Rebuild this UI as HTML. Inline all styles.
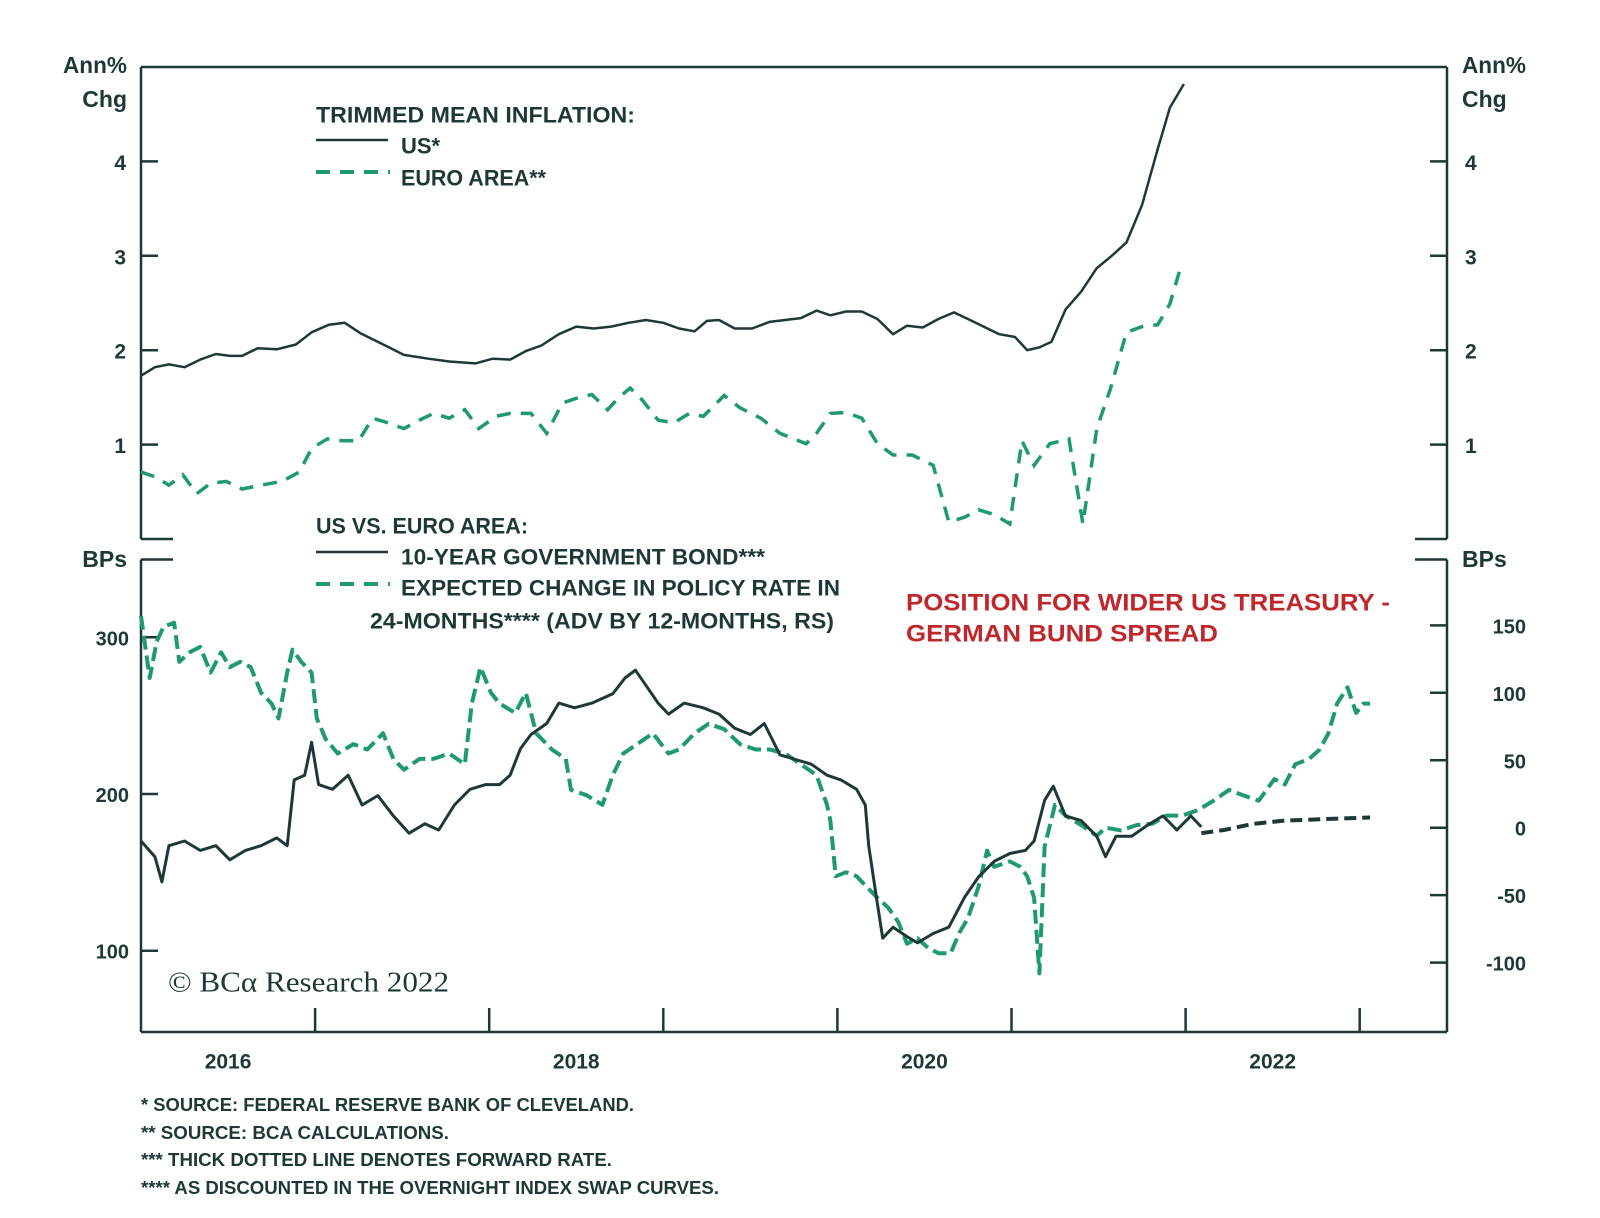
<!DOCTYPE html>
<html><head><meta charset="utf-8"><style>
html,body{margin:0;padding:0;background:#fff;}
svg{display:block;font-family:"Liberation Sans",sans-serif;}
</style></head><body>
<svg id="chart" width="1600" height="1218" viewBox="0 0 1600 1218" xmlns="http://www.w3.org/2000/svg">
<g id="frame" stroke="#1e3838" stroke-width="2.5" fill="none">
  <line x1="141" y1="67" x2="1447" y2="67"/>
  <line x1="141" y1="67" x2="141" y2="539"/>
  <line x1="1447" y1="67" x2="1447" y2="539"/>
  <line x1="141" y1="539" x2="173" y2="539"/>
  <line x1="1415" y1="539" x2="1447" y2="539"/>
  <line x1="141" y1="559.5" x2="173" y2="559.5"/>
  <line x1="1415" y1="559.5" x2="1447" y2="559.5"/>
  <line x1="141" y1="559.5" x2="141" y2="1032"/>
  <line x1="1447" y1="559.5" x2="1447" y2="1032"/>
  <line x1="141" y1="1032" x2="1447" y2="1032"/>
</g>
<g id="ticks"></g>
<g id="series"></g>
<g fill="#1e3838" font-weight="bold">
  <text x="127" y="65" text-anchor="end" dominant-baseline="central" font-size="23" textLength="64" lengthAdjust="spacingAndGlyphs">Ann%</text>
  <text x="127" y="99" text-anchor="end" dominant-baseline="central" font-size="23">Chg</text>
  <text x="1462" y="65" dominant-baseline="central" font-size="23" textLength="64" lengthAdjust="spacingAndGlyphs">Ann%</text>
  <text x="1462" y="99" dominant-baseline="central" font-size="23">Chg</text>
  <text x="127" y="559" text-anchor="end" dominant-baseline="central" font-size="23">BPs</text>
  <text x="1462" y="559" dominant-baseline="central" font-size="23">BPs</text>
</g>
<g fill="#1e3838" font-weight="bold" font-size="22">
  <text x="316" y="115" dominant-baseline="central" textLength="319" lengthAdjust="spacingAndGlyphs">TRIMMED MEAN INFLATION:</text>
  <line x1="316" y1="140" x2="388" y2="140" stroke="#1e3838" stroke-width="2.5"/>
  <text x="401" y="146" dominant-baseline="central">US*</text>
  <line x1="316" y1="172" x2="390" y2="172" stroke="#1f9a70" stroke-width="4" stroke-dasharray="14 10"/>
  <text x="401" y="178" dominant-baseline="central" textLength="145" lengthAdjust="spacingAndGlyphs">EURO AREA**</text>
  <text x="316" y="526" dominant-baseline="central" textLength="212" lengthAdjust="spacingAndGlyphs">US VS. EURO AREA:</text>
  <line x1="316" y1="552" x2="388" y2="552" stroke="#1e3838" stroke-width="2.5"/>
  <text x="401" y="557" dominant-baseline="central" textLength="364" lengthAdjust="spacingAndGlyphs">10-YEAR GOVERNMENT BOND***</text>
  <line x1="316" y1="584" x2="390" y2="584" stroke="#1f9a70" stroke-width="4" stroke-dasharray="14 10"/>
  <text x="401" y="588" dominant-baseline="central" textLength="439" lengthAdjust="spacingAndGlyphs">EXPECTED CHANGE IN POLICY RATE IN</text>
  <text x="370" y="621" dominant-baseline="central" textLength="464" lengthAdjust="spacingAndGlyphs">24-MONTHS**** (ADV BY 12-MONTHS, RS)</text>
</g>
<g fill="#c0272d" font-weight="bold" font-size="24">
  <text x="906" y="603" dominant-baseline="central" textLength="484" lengthAdjust="spacingAndGlyphs">POSITION FOR WIDER US TREASURY -</text>
  <text x="906" y="634" dominant-baseline="central" textLength="312" lengthAdjust="spacingAndGlyphs">GERMAN BUND SPREAD</text>
</g>
<text x="168" y="983" dominant-baseline="central" font-family="'Liberation Serif',serif" font-size="28" fill="#1e3838" textLength="281" lengthAdjust="spacingAndGlyphs">© BCα Research 2022</text>
<g fill="#1e3838" font-weight="bold" font-size="18">
  <text x="141" y="1105" dominant-baseline="central" textLength="493" lengthAdjust="spacingAndGlyphs">*   SOURCE: FEDERAL RESERVE BANK OF CLEVELAND.</text>
  <text x="141" y="1133" dominant-baseline="central" textLength="308" lengthAdjust="spacingAndGlyphs">**  SOURCE: BCA CALCULATIONS.</text>
  <text x="141" y="1160" dominant-baseline="central" textLength="471" lengthAdjust="spacingAndGlyphs">***  THICK DOTTED LINE DENOTES FORWARD RATE.</text>
  <text x="141" y="1188" dominant-baseline="central" textLength="578" lengthAdjust="spacingAndGlyphs">**** AS DISCOUNTED IN THE OVERNIGHT INDEX SWAP CURVES.</text>
</g>
</svg>
<script>
// ---- data ----
const topTicks = [1, 2, 3, 4];
const leftTicks = [100, 200, 300];
const rightTicks = [-100, -50, 0, 50, 100, 150];
const yearTicks = [2017, 2018, 2019, 2020, 2021, 2022, 2023];
const yearLabels = ["2016", "2018", "2020", "2022"];
const usT = [0,.08,.16,.25,.34,.43,.51,.58,.67,.78,.89,.98,1.08,1.17,1.26,1.37,1.51,1.65,1.77,1.92,2.02,2.12,2.21,2.30,2.40,2.50,2.60,2.70,2.80,2.90,3.00,3.09,3.18,3.25,3.32,3.41,3.51,3.61,3.70,3.79,3.88,3.96,4.05,4.14,4.23,4.32,4.40,4.49,4.58,4.67,4.75,4.84,4.93,5.02,5.09,5.16,5.23,5.31,5.40,5.49,5.57,5.66,5.75,5.84,5.91,5.99];
const usInfl = [1.73,1.82,1.85,1.82,1.90,1.96,1.94,1.94,2.02,2.01,2.06,2.19,2.27,2.29,2.18,2.08,1.95,1.91,1.88,1.86,1.91,1.90,1.99,2.05,2.17,2.25,2.23,2.25,2.29,2.32,2.29,2.23,2.20,2.31,2.32,2.23,2.23,2.30,2.32,2.34,2.42,2.37,2.41,2.41,2.33,2.17,2.26,2.24,2.33,2.40,2.33,2.25,2.17,2.14,2.00,2.03,2.09,2.43,2.62,2.87,2.99,3.14,3.54,4.13,4.57,4.82];
const euT = [0,.08,.16,.24,.32,.40,.49,.58,.69,.81,.91,.98,1.07,1.16,1.25,1.33,1.42,1.51,1.60,1.68,1.77,1.86,1.94,2.04,2.12,2.24,2.33,2.42,2.50,2.59,2.68,2.74,2.81,2.88,2.97,3.06,3.15,3.23,3.35,3.44,3.56,3.67,3.82,3.88,3.96,4.05,4.14,4.23,4.32,4.43,4.55,4.64,4.73,4.81,4.90,4.99,5.06,5.13,5.22,5.33,5.41,5.49,5.57,5.66,5.75,5.84,5.91,5.97];
const euInfl = [.71,.66,.57,.68,.48,.59,.61,.53,.57,.61,.71,.96,1.06,1.04,1.04,1.28,1.23,1.17,1.26,1.33,1.28,1.37,1.17,1.30,1.33,1.33,1.12,1.44,1.49,1.53,1.37,1.49,1.60,1.47,1.26,1.23,1.33,1.30,1.52,1.39,1.28,1.12,1.01,1.12,1.33,1.34,1.28,1.01,.89,.89,.78,.18,.23,.31,.26,.16,1.04,.78,1.01,1.06,.16,1.17,1.60,2.19,2.25,2.27,2.49,2.87];
const bondT = [0,.08,.12,.16,.25,.34,.43,.51,.60,.69,.78,.84,.88,.94,.98,1.02,1.10,1.19,1.27,1.36,1.45,1.54,1.63,1.71,1.80,1.89,1.98,2.06,2.12,2.18,2.24,2.33,2.40,2.49,2.59,2.71,2.78,2.84,2.89,2.97,3.03,3.12,3.23,3.32,3.41,3.50,3.58,3.67,3.76,3.85,3.94,4.02,4.11,4.16,4.18,4.22,4.26,4.32,4.40,4.46,4.55,4.64,4.73,4.81,4.90,4.99,5.08,5.13,5.19,5.24,5.31,5.40,5.49,5.54,5.60,5.69,5.78,5.87,5.95,6.03,6.09];
const bondSpread = [170,160,144,167,170,164,167,158,164,167,172,167,209,212,233,206,203,212,193,199,186,175,181,177,193,203,206,206,212,229,238,245,258,255,258,264,274,279,271,258,251,258,255,251,242,238,245,225,222,219,212,209,203,193,167,137,108,115,109,105,111,115,134,147,157,162,164,170,196,205,186,183,173,160,173,173,180,186,177,186,179];
const fwdT = [6.09,6.22,6.39,6.57,6.80,7.06];
const fwdSpread = [175,177,181,183,184,185];
const polT = [0,.05,.09,.13,.19,.22,.28,.34,.40,.46,.51,.57,.63,.69,.75,.79,.84,.87,.92,.98,1.01,1.06,1.13,1.22,1.30,1.39,1.45,1.51,1.60,1.68,1.77,1.86,1.90,1.95,2.01,2.06,2.15,2.21,2.27,2.36,2.44,2.47,2.56,2.65,2.71,2.77,2.85,2.94,3.03,3.09,3.18,3.26,3.35,3.44,3.53,3.61,3.70,3.79,3.88,3.94,3.96,3.99,4.05,4.11,4.17,4.23,4.29,4.35,4.40,4.46,4.52,4.58,4.65,4.70,4.75,4.81,4.86,4.90,4.99,5.05,5.09,5.13,5.16,5.19,5.25,5.31,5.40,5.49,5.54,5.63,5.72,5.81,5.89,5.98,6.07,6.16,6.25,6.33,6.42,6.51,6.57,6.63,6.71,6.77,6.82,6.87,6.93,6.98,7.02,7.06];
const polChange = [157,111,138,149,152,123,130,134,115,130,119,123,119,100,92,81,115,132,123,115,81,66,55,62,58,70,51,43,51,51,55,47,92,119,100,92,85,100,70,58,51,28,24,17,39,55,62,70,55,58,70,77,73,62,58,58,55,47,39,17,5,-36,-33,-36,-44,-52,-59,-70,-86,-82,-89,-93,-93,-78,-67,-44,-17,-29,-25,-29,-36,-52,-108,-14,17,9,2,-6,0,-2,2,3,9,9,13,20,28,24,20,36,32,47,51,58,70,92,104,85,92,92];

// ---- axis functions ----
const NS = "http://www.w3.org/2000/svg";
function xs(t) { return 141 + t * 174.1; }            // t = years since 2016
function xYear(y) { return xs(y - 2016); }
function yTop(v) { return 539 - v * 94.4; }
function yLeft(v) { return 794 - (v - 200) * 1.567; }
function yRight(v) { return 827.7 - v * 1.349; }
const ticksG = document.getElementById('ticks');
const seriesG = document.getElementById('series');
function mk(tag, attrs, parent) {
  const e = document.createElementNS(NS, tag);
  for (const k in attrs) e.setAttribute(k, attrs[k]);
  parent.appendChild(e);
  return e;
}
const ink = "#1e3838";
topTicks.forEach(v => {
  const l1 = mk('line', {x1: 141, x2: 158, y1: yTop(v), y2: yTop(v), stroke: ink, 'stroke-width': 2.5}, ticksG);
  
  
  const l2 = mk('line', {x1: 1430, x2: 1447, y1: yTop(v), y2: yTop(v), stroke: ink, 'stroke-width': 2.5}, ticksG);
  
  
  const t1 = mk('text', {x: 126, y: yTop(v) + 2, 'text-anchor': 'end', 'dominant-baseline': 'central', 'font-size': 21, 'font-weight': 'bold', fill: ink}, ticksG);
  t1.textContent = v;
  
  
  const t2 = mk('text', {x: 1465, y: yTop(v) + 2, 'dominant-baseline': 'central', 'font-size': 21, 'font-weight': 'bold', fill: ink}, ticksG);
  t2.textContent = v;
  
  
});
leftTicks.forEach(v => {
  const l = mk('line', {x1: 141, x2: 158, y1: yLeft(v), y2: yLeft(v), stroke: ink, 'stroke-width': 2.5}, ticksG);
  
  
  const t = mk('text', {x: 129, y: yLeft(v) + 2, 'text-anchor': 'end', 'dominant-baseline': 'central', 'font-size': 20, 'font-weight': 'bold', fill: ink}, ticksG);
  t.textContent = v;
  
  
});
rightTicks.forEach(v => {
  const l = mk('line', {x1: 1430, x2: 1447, y1: yRight(v), y2: yRight(v), stroke: ink, 'stroke-width': 2.5}, ticksG);
  
  
  const t = mk('text', {x: 1526, y: yRight(v) + 2, 'text-anchor': 'end', 'dominant-baseline': 'central', 'font-size': 20, 'font-weight': 'bold', fill: ink}, ticksG);
  t.textContent = v;
  
  
});
yearTicks.forEach(y => {
  const l = mk('line', {x1: xYear(y), x2: xYear(y), y1: 1008, y2: 1032, stroke: ink, 'stroke-width': 2.5}, ticksG);
  
  
});
yearLabels.forEach(s => {
  const y = +s;
  const t = mk('text', {x: xYear(y + 0.5), y: 1062, 'text-anchor': 'middle', 'dominant-baseline': 'central', 'font-size': 21, 'font-weight': 'bold', fill: ink}, ticksG);
  t.textContent = s;
  
  
});
function path(ts, vs, yf) {
  return ts.map((t, i) => (i ? 'L' : 'M') + xs(t).toFixed(1) + ',' + yf(vs[i]).toFixed(1)).join(' ');
}
const green = "#1f9a70";
const p1 = mk('path', {d: path(polT, polChange, yRight), fill: 'none', stroke: green, 'stroke-width': 4, 'stroke-dasharray': '14 6', 'stroke-linejoin': 'round'}, seriesG);


const p2 = mk('path', {d: path(bondT, bondSpread, yLeft), fill: 'none', stroke: ink, 'stroke-width': 3, 'stroke-linejoin': 'round'}, seriesG);


const p3 = mk('path', {d: path(fwdT, fwdSpread, yLeft), fill: 'none', stroke: ink, 'stroke-width': 4, 'stroke-dasharray': '12 6'}, seriesG);


const p4 = mk('path', {d: path(euT, euInfl, yTop), fill: 'none', stroke: green, 'stroke-width': 3.5, 'stroke-dasharray': '14 10'}, seriesG);


const p5 = mk('path', {d: path(usT, usInfl, yTop), fill: 'none', stroke: ink, 'stroke-width': 2.5, 'stroke-linejoin': 'round'}, seriesG);


</script>
</body></html>
